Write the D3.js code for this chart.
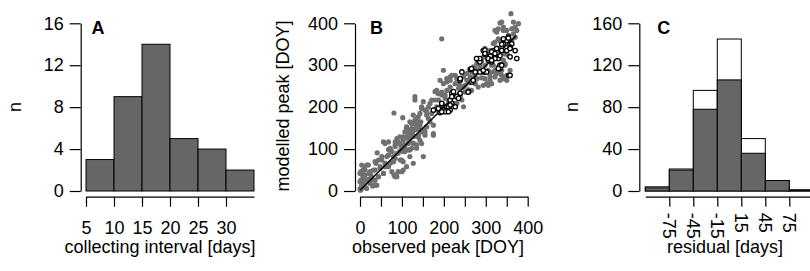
<!DOCTYPE html>
<html>
<head>
<meta charset="utf-8">
<script src="https://cdn.jsdelivr.net/npm/d3@7"></script>
<style>
  body { margin: 0; background: #fff; }
  svg { display: block; }
  text { font-family: "Liberation Sans", Arial, sans-serif; }
</style>
</head>
<body>
<svg id="chart" width="810" height="271"></svg>
<script>
// ---- panel A : collecting interval histogram ----
var intervalBins = [5, 10, 15, 20, 25, 30];
var intervalCounts = [3, 9, 14, 5, 4, 2];
var intervalTicks = [5, 10, 15, 20, 25, 30];
var countTicksA = [0, 4, 8, 12, 16];

// ---- panel B : observed vs modelled peak (DOY) ----
var grayPeaks = [
  // low end
  [1,2],[4,14],[2,26],[8,20],[12,10],[16,6],[6,38],[2,46],[12,50],[4,62],[16,62],[22,42],
  [28,30],[24,18],[36,26],[40,14],[44,34],[32,50],[48,54],[38,66],[56,42],[60,58],[52,74],
  [64,82],[41,91],[72,66],[80,82],[76,94],[68,99],[84,106],[88,90],[60,113],[56,117],[95,96],
  [99,74],[88,34],[81,38],[91,46],[103,50],[3,4],[8,30],[20,28],[30,12],[10,55],[26,38],
  [0,42],[12,38],[24,46],[36,50],[48,58],[60,66],[68,58],[80,70],[96,74],[103,70],[111,58],
  [127,66],[84,34],[87,38],[100,46],[76,46],[56,42],[44,34],[32,26],[20,22],[0,22],[12,26],
  [0,6],[36,14],[20,62],[8,50],[36,70],[44,74],[52,82],[68,86],[84,78],[91,90],[107,94],
  [119,98],[135,102],[100,106],[84,110],[72,102],[68,117],[88,125],[115,125],[103,129],
  // middle
  [103,121],[111,129],[119,137],[115,113],[123,149],[127,161],[131,169],[135,153],[139,177],
  [143,185],[111,153],[107,141],[119,165],[127,181],[131,225],[131,217],[147,201],[151,213],
  [155,193],[159,181],[163,173],[167,165],[175,133],[151,82],[119,82],[127,113],[139,129],
  [147,141],[155,141],[143,121],[135,110],[99,106],[103,94],[115,98],[123,102],[147,113],
  [159,153],[102,175],[91,117],[84,117],[95,129],[107,110],[113,140],[121,128],[125,138],
  [133,146],[137,160],[141,148],[145,165],[117,120],[129,130],[96,112],[108,100],[136,172],
  [171,217],[147,197],[159,189],[183,193],[135,169],[123,161],[143,157],[159,153],[175,157],
  [151,145],[119,141],[131,149],[111,149],[139,133],[155,133],[175,137],[127,114],
  [81,186],[195,363],
  // upper
  [179,237],[183,240],[191,264],[199,256],[207,268],[187,217],[195,229],[203,221],[215,248],
  [219,237],[223,225],[211,209],[199,201],[183,201],[175,193],[227,256],[231,268],[235,245],
  [239,229],[243,217],[231,209],[251,252],[255,264],[247,272],[259,241],[263,272],[267,284],
  [271,296],[275,256],[279,268],[283,284],[215,264],[219,276],[199,288],[227,205],[179,217],
  [167,209],[171,185],[163,200],[187,232],[207,240],[240,250],[250,236],[262,258],
  [227,276],[215,272],[207,260],[235,256],[247,248],[266,240],[282,248],[223,236],[203,229],
  [195,236],[239,225],[211,217],[227,209],[199,205],[247,201],[255,280],[263,264],[274,276],
  [286,288],[298,300],[294,252],[306,256],[310,272],[322,288],[338,276],[346,304],[330,320],
  [310,328],[298,340],[318,352],[330,363],[322,383],[342,383],[338,403],[362,387],[354,371],
  [370,367],
  [286,298],[290,310],[294,282],[298,268],[302,256],[306,252],[310,280],[314,300],[318,284],
  [322,272],[326,280],[330,296],[334,284],[338,288],[342,312],[346,327],[350,335],[354,323],
  [358,343],[362,359],[366,375],[370,391],[360,423],[334,401],[342,391],[350,383],[354,367],
  [326,379],[330,387],[334,359],[322,355],[338,343],[310,335],[302,323],[294,319],[279,304],
  [275,292],[342,268],[350,264],[358,288],[374,383],[378,399],[366,403],[350,276],[310,264],
  [314,256],[334,264],[318,300],[346,300],[290,270],[306,288]
];
var openPeaks = [
  [175,193],[187,197],[191,187],[199,193],[195,205],[207,201],[215,193],[219,209],[215,217],
  [219,233],[223,237],[231,225],[235,221],[239,233],[239,264],[243,284],[259,237],[267,260],
  [263,290],[275,284],[279,316],[283,312],[286,308],[286,284],[294,335],[298,327],[298,284],
  [302,284],[306,312],[310,316],[314,327],[314,308],[318,335],[322,323],[326,339],[330,316],
  [334,323],[334,300],[338,335],[342,351],[350,359],[354,367],[362,351],[370,335],[374,316],
  [358,343],[350,335],[334,292],[355,276],[211,201],[203,189],[311,322],[327,330],
  [342,363],[354,365],[338,350],[358,340],[298,336],[298,328],[314,332],[322,328],[326,340],
  [322,316],[306,316],[314,312],[286,316],[278,316],[358,320],[338,300],[330,292],[266,292],
  [294,288],[358,276],[239,268],[270,264],[258,236],[219,225],[227,201],[215,205],[195,209],
  [195,189],[211,189]
];
var fitLineX = [0, 372];
var fitLineY = [2, 370];
var peakTicks = [0, 50, 100, 150, 200, 250, 300, 350, 400];
var peakTicksY = [0, 100, 200, 300, 400];

// ---- panel C : residual histogram ----
var residualBins = [-105, -75, -45, -15, 15, 45, 75];
var residualAll = [4, 21, 96, 145, 50, 10, 1];
var residualDark = [3, 20, 78, 106, 36, 10, 1];
var residualTicks = [-75, -45, -15, 15, 45, 75];
var countTicksC = [0, 40, 80, 120, 160];

var svg = d3.select("#chart");
var fs = 18;
var barFill = "#666666";

function styleAxis(g) {
  g.selectAll("path.domain").attr("stroke", "#000").attr("stroke-width", 1.2);
  g.selectAll(".tick line").attr("stroke", "#000").attr("stroke-width", 1.2);
  g.selectAll(".tick text").attr("font-size", fs).attr("fill", "#000")
    .style("font-family", "'Liberation Sans', Arial, sans-serif");
}

function leftAxis(y, ticks, xPos) {
  var g = svg.append("g").attr("transform", "translate(" + xPos + ",0)")
    .call(d3.axisLeft(y).tickValues(ticks).tickSize(11).tickSizeOuter(0).tickPadding(6));
  styleAxis(g);
  return g;
}

function bottomAxis(x, ticks, yPos, fmt) {
  var ax = d3.axisBottom(x).tickValues(ticks).tickSize(10).tickSizeOuter(0).tickPadding(15);
  if (fmt) ax.tickFormat(fmt);
  var g = svg.append("g").attr("transform", "translate(0," + yPos + ")").call(ax);
  styleAxis(g);
  return g;
}

function label(txt, x, y, rot, bold) {
  var t = svg.append("text").text(txt).attr("font-size", fs)
    .attr("text-anchor", bold ? "start" : "middle").attr("fill", "#000");
  if (bold) t.attr("font-weight", "bold");
  if (rot) t.attr("transform", "translate(" + x + "," + y + ") rotate(-90)").attr("dy", "0.35em");
  else t.attr("x", x).attr("y", y);
}

var yTop = 23.3, yBot = 191, axisY = 196.7;

// ===== A =====
var xA = d3.scaleLinear().domain([5, 35]).range([86, 254]);
var yA = d3.scaleLinear().domain([0, 16]).range([yBot, yTop]);

svg.append("g").selectAll("rect").data(intervalBins).enter().append("rect")
  .attr("x", function(d) { return xA(d); })
  .attr("width", function(d) { return xA(d + 5) - xA(d); })
  .attr("y", function(d, i) { return yA(intervalCounts[i]); })
  .attr("height", function(d, i) { return yA(0) - yA(intervalCounts[i]); })
  .attr("fill", barFill).attr("stroke", "#000").attr("stroke-width", 1);

leftAxis(yA, countTicksA, 80.7);
bottomAxis(xA, intervalTicks, axisY);
label("n", 15, 107, true);
label("collecting interval [days]", 160, 253);
label("A", 91.5, 34, false, true);

// ===== B =====
var xB = d3.scaleLinear().domain([0, 400]).range([360, 527.7]);
var yB = d3.scaleLinear().domain([0, 400]).range([yBot, yTop]);

svg.append("g").selectAll("circle").data(grayPeaks).enter().append("circle")
  .attr("cx", function(d) { return xB(d[0]); })
  .attr("cy", function(d) { return yB(d[1]); })
  .attr("r", 2.6).attr("fill", "#707070");

svg.append("line")
  .attr("x1", xB(fitLineX[0])).attr("y1", yB(fitLineY[0]))
  .attr("x2", xB(fitLineX[1])).attr("y2", yB(fitLineY[1]))
  .attr("stroke", "#000").attr("stroke-width", 1.5);

svg.append("g").selectAll("circle").data(openPeaks).enter().append("circle")
  .attr("cx", function(d) { return xB(d[0]); })
  .attr("cy", function(d) { return yB(d[1]); })
  .attr("r", 2.2).attr("fill", "#fff").attr("stroke", "#000").attr("stroke-width", 1.3);

leftAxis(yB, peakTicksY, 355);
bottomAxis(xB, peakTicks, axisY, function(d) { return d % 100 === 0 ? d : ""; });
label("modelled peak [DOY]", 283, 106, true);
label("observed peak [DOY]", 438, 253);
label("B", 370, 34, false, true);

// ===== C =====
var xC = d3.scaleLinear().domain([-105, 135]).range([645.3, 837.3]);
var yC = d3.scaleLinear().domain([0, 160]).range([yBot, yTop]);

svg.append("g").selectAll("rect").data(residualBins).enter().append("rect")
  .attr("x", function(d) { return xC(d); })
  .attr("width", function(d) { return xC(d + 30) - xC(d); })
  .attr("y", function(d, i) { return yC(residualAll[i]); })
  .attr("height", function(d, i) { return yC(0) - yC(residualAll[i]); })
  .attr("fill", "#fff").attr("stroke", "#000").attr("stroke-width", 1);

svg.append("g").selectAll("rect").data(residualBins).enter().append("rect")
  .attr("x", function(d) { return xC(d); })
  .attr("width", function(d) { return xC(d + 30) - xC(d); })
  .attr("y", function(d, i) { return yC(residualDark[i]); })
  .attr("height", function(d, i) { return yC(0) - yC(residualDark[i]); })
  .attr("fill", barFill).attr("stroke", "#000").attr("stroke-width", 1);

leftAxis(yC, countTicksC, 639.3);
var gC = bottomAxis(xC, residualTicks, axisY, function(d) { return String(d); });
gC.selectAll(".tick text")
  .attr("y", null).attr("dy", "0.35em")
  .attr("text-anchor", "start")
  .attr("transform", "translate(0,16) rotate(90)");
label("n", 571.7, 107, true);
label("residual [days]", 725, 253);
label("C", 657.3, 34, false, true);
</script>
</body>
</html>
